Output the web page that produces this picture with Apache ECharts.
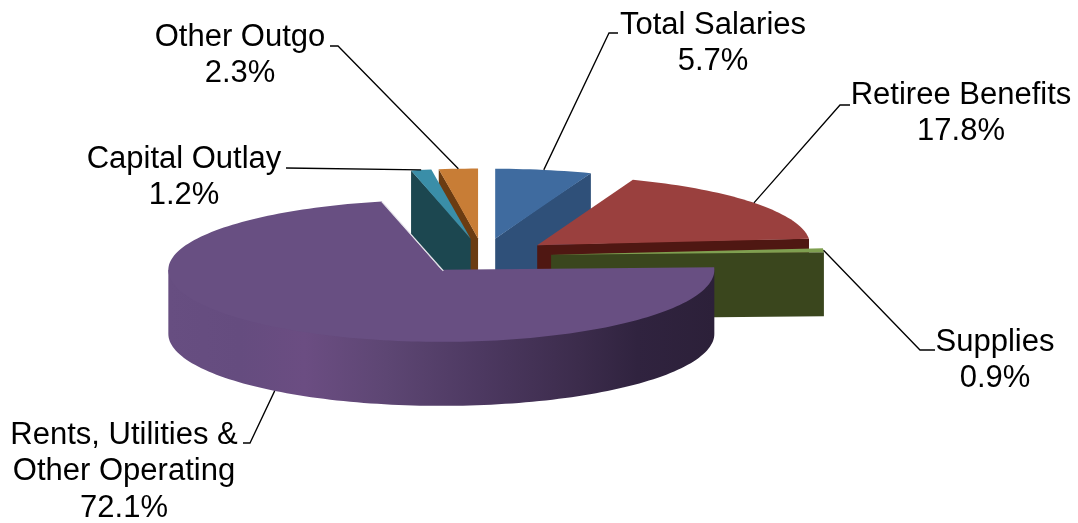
<!DOCTYPE html>
<html>
<head>
<meta charset="utf-8">
<style>html,body{margin:0;padding:0;background:#fff}#c{width:1078px;height:523px}</style>
<script src="https://cdn.jsdelivr.net/npm/echarts@6/dist/echarts.min.js"></script>
</head>
<body>
<div id="c"></div>
<script>
// Data
const categories = ['Total Salaries', 'Retiree Benefits', 'Supplies', 'Rents, Utilities &\nOther Operating', 'Capital Outlay', 'Other Outgo'];
const shares = [5.7, 17.8, 0.9, 72.1, 1.2, 2.3];

// Styles, one entry per category
const topColors = ['#3f6b9f', '#9a403e', '#7f9f50', '#684f82', '#3a8ea8', '#c87d36'];
const wallColors = ['#2f5079', '#4f1712', '#3a461d', '#5c4672', '#1c4750', '#6b3c12'];

// Layout of the oblique exploded pie
const pieCenter = [483, 256];
const radiusX = 273, radiusY = 70, radiusYNear = 72, depth = 64, explode = 0.25;
const paintOrder = [5, 4, 0, 1, 2, 3];

// Label layout: text anchor, then leader elbow and end
const labelAnchors = [[713, 7], [961, 77], [995, 324], [124, 417], [184, 141], [240, 19]];
const leaderElbows = [[[609, 33], [618, 33]], [[840, 105], [850, 105]], [[920, 350], [935, 350]], [[250, 443], [243, 443]], [[286, 168]], [[338, 46], [330, 46]]];

const total = shares.reduce((a, b) => a + b, 0);
const deg = Math.PI / 180;
const angles = [];
shares.reduce((acc, v, i) => { angles[i] = [acc / total * 360, (acc + v) / total * 360]; return acc + v; }, 0);

function renderSlice(params, api) {
  const i = api.value(0);
  const a0 = angles[i][0], a1 = angles[i][1], mid = (a0 + a1) / 2;
  const cx = pieCenter[0] + explode * radiusX * Math.sin(mid * deg);
  const cy = pieCenter[1] - explode * radiusY * Math.cos(mid * deg);
  const rim = (a, d) => {
    const c = Math.cos(a * deg);
    return [cx + radiusX * Math.sin(a * deg), cy - (c < 0 ? radiusYNear : radiusY) * c + (d || 0)];
  };
  const apex = [cx, cy];
  const arc = [];
  const n = Math.max(2, Math.ceil((a1 - a0) / 1.5));
  for (let k = 0; k <= n; k++) arc.push(rim(a0 + (a1 - a0) * k / n));
  const kids = [];
  const z = paintOrder.indexOf(i) * 10;
  const poly = (pts, fill, dz) => kids.push({ type: 'polygon', z2: z + dz, shape: { points: pts }, style: { fill: fill } });

  // side cut facing the viewer; the extra vertex tucks its edge under the top face
  const cutAngle = (a0 > 180 && a1 > 270) ? a0 : a1;
  if (!(a0 < 180 && a1 > 180)) {
    const p = rim(cutAngle);
    const tuck = [(cx + p[0]) / 2, (cy + p[1]) / 2 - 1];
    poly([apex, tuck, p, [p[0], p[1] + depth], [cx, cy + depth]], wallColors[i], 0);
  }
  // outer wall on the near half; its upper edge is tucked under the top face
  const from = Math.max(a0, 90), to = Math.min(a1, 270);
  if (to > from) {
    const front = [], back = [];
    const m = Math.ceil((to - from) / 1.5);
    for (let k = 0; k <= m; k++) {
      const a = from + (to - from) * k / m;
      const p = rim(a);
      front.push([p[0] + (cx - p[0]) * 0.03, p[1] + (cy - p[1]) * 0.03]);
      back.unshift(rim(a, depth));
    }
    poly([rim(from)].concat(front, [rim(to)], back), new echarts.graphic.LinearGradient(0, 0, 1, 0, [
      { offset: 0, color: '#674e81' }, { offset: 0.13, color: '#654c7f' },
      { offset: 0.25, color: '#6b4d82' }, { offset: 0.4, color: '#5d4673' },
      { offset: 0.58, color: '#4c3860' }, { offset: 0.75, color: '#3c2c4c' },
      { offset: 0.86, color: '#30233f' }, { offset: 1, color: '#2c2039' }
    ]), 1);
  }
  // top face
  poly([apex].concat(arc), topColors[i], 2);
  // pale edge on the large slice's upper cut
  if (a1 - a0 > 180) {
    kids.push({ type: 'polyline', z2: z + 3, shape: { points: [[cx + 2, cy + 1], rim(a1)] }, style: { stroke: '#e8e6ec', lineWidth: 1.2, fill: null } });
  }
  // leader line and label
  const start = (mid > 90 && mid < 270) ? rim(mid, depth) : rim(mid);
  kids.push({ type: 'polyline', z2: 100, shape: { points: [start].concat(leaderElbows[i]) }, style: { stroke: '#000', lineWidth: 1.3, fill: null } });
  kids.push({ type: 'text', z2: 101, style: {
    text: categories[i] + '\n' + shares[i].toFixed(1) + '%',
    x: labelAnchors[i][0], y: labelAnchors[i][1],
    align: 'center', verticalAlign: 'top',
    font: '31px "Liberation Sans", Arial, sans-serif', lineHeight: 36.5, fill: '#000'
  } });
  return { type: 'group', children: kids };
}

const chart = echarts.init(document.getElementById('c'), null, { renderer: 'canvas' });
chart.setOption({
  animation: false,
  backgroundColor: '#ffffff',
  series: [{
    type: 'custom',
    coordinateSystem: 'none',
    renderItem: renderSlice,
    silent: true,
    data: paintOrder.map(i => ({ name: categories[i], value: [i, shares[i]] }))
  }]
});
</script>
</body>
</html>
